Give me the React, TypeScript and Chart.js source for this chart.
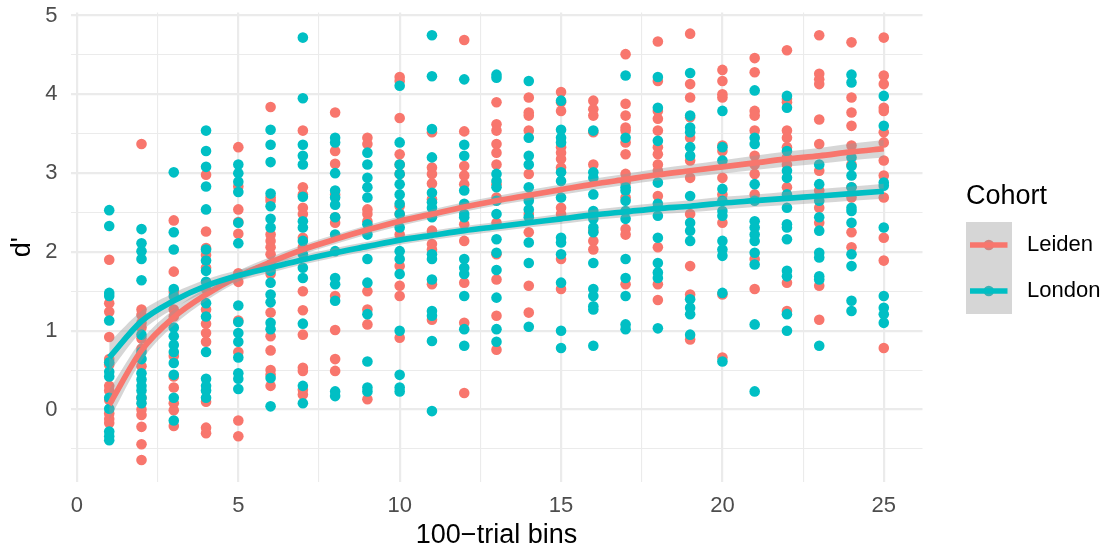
import React, { useEffect, useRef } from 'react';
import { Chart, registerables } from 'chart.js';

Chart.register(...registerables);

const FONT = "'Liberation Sans', Arial, Helvetica, sans-serif";

const COHORTS = ['Leiden', 'London'];
const COLORS = ['#F8766D', '#00BFC4'];
const KEY_POINT_COLORS = ['#D2847F', '#3DB0B3'];
const RIBBON_COLOR = 'rgba(153,153,153,0.4)';

const BINS = [1, 2, 3, 4, 5, 6, 7, 8, 9, 10, 11, 12, 13, 14, 15, 16, 17, 18, 19, 20, 21, 22, 23, 24, 25];
const X_TICKS = [0, 2.5, 5, 7.5, 10, 12.5, 15, 17.5, 20, 22.5, 25];
const Y_TICKS = [-0.5, 0, 0.5, 1, 1.5, 2, 2.5, 3, 3.5, 4, 4.5, 5];

// d' values per 100-trial bin (index 0 = bin 1)
const LEIDEN_POINTS: number[][] = [
  [1.9, 1.35, 1.24, 0.92, 0.64, 0.57, 0.3, 0.24, 0.12, -0.05, -0.12, -0.17],
  [3.37, 1.27, 1.2, 1.1, 1.04, 0.9, 0.77, 0.55, 0.15, 0.0, -0.07, -0.22, -0.44, -0.64],
  [2.4, 1.75, 1.49, 1.27, 1.18, 0.68, 0.42, 0.28, 0.08, -0.01, -0.21],
  [2.98, 2.26, 2.05, 1.96, 1.8, 1.53, 1.27, 1.09, 0.97, 0.86, 0.1, -0.23, -0.3],
  [3.33, 2.83, 2.54, 2.38, 2.23, 1.73, 1.62, 1.13, 0.73, -0.14, -0.34],
  [3.84, 2.69, 2.65, 2.22, 2.14, 2.06, 1.97, 1.72, 1.23, 0.93, 0.75, 0.5, 0.44, 0.3],
  [3.54, 2.82, 2.73, 2.56, 2.48, 2.18, 2.06, 1.5, 1.26, 0.95, 0.53, 0.49, 0.25, 0.19],
  [3.77, 3.28, 3.12, 2.73, 2.44, 2.37, 1.44, 1.01, 0.64, 0.49],
  [3.45, 3.37, 2.54, 2.48, 2.39, 1.5, 1.27, 1.08, 0.13],
  [4.22, 4.17, 3.7, 3.24, 3.11, 2.99, 2.58, 2.48, 2.22, 1.82, 1.57, 1.44, 0.91],
  [3.52, 3.07, 2.99, 2.87, 2.67, 2.27, 2.1, 2.03, 1.59, 1.14],
  [4.69, 3.53, 3.09, 2.97, 2.86, 2.35, 2.14, 1.61, 1.1, 0.21],
  [3.9, 3.62, 3.54, 3.37, 3.26, 3.11, 2.86, 2.69, 2.37, 1.97, 1.65, 1.19, 0.76],
  [3.96, 3.77, 3.73, 3.54, 2.99, 2.69, 2.48, 2.25, 1.57, 1.23],
  [4.03, 3.9, 3.79, 3.33, 3.26, 3.18, 3.07, 2.56, 2.48, 1.91, 1.53],
  [3.92, 3.81, 3.73, 3.52, 3.11, 2.27, 2.14, 2.03],
  [4.51, 3.88, 3.73, 3.58, 3.54, 3.39, 3.24, 2.99, 2.88, 2.69, 2.29, 2.22, 1.59],
  [4.67, 4.17, 3.79, 3.69, 3.54, 3.33, 3.24, 3.11, 3.03, 2.71, 2.06, 1.59, 1.39],
  [4.77, 4.13, 3.96, 3.71, 3.45, 3.16, 2.94, 2.48, 1.82, 1.46, 0.89],
  [4.31, 4.17, 4.0, 3.96, 3.35, 3.28, 2.94, 2.73, 2.37, 1.46, 0.66],
  [4.46, 4.28, 3.79, 3.73, 3.54, 3.22, 3.11, 2.99, 2.73, 1.91, 1.53],
  [4.56, 3.94, 3.9, 3.54, 3.45, 3.33, 3.2, 3.11, 2.82, 1.61, 1.25],
  [4.75, 4.26, 4.19, 4.13, 3.68, 3.37, 3.03, 2.78, 2.56, 2.37, 1.57, 1.14],
  [4.66, 3.96, 3.77, 3.6, 3.35, 3.11, 2.82, 2.69, 2.25, 2.06],
  [4.72, 4.24, 4.13, 3.83, 3.79, 3.52, 3.39, 3.16, 2.97, 2.69, 2.18, 1.89, 0.78],
];

const LONDON_POINTS: number[][] = [
  [2.53, 2.33, 1.48, 1.44, 1.13, 0.6, 0.48, 0.42, 0.15, 0.01, -0.28, -0.34, -0.39],
  [2.29, 2.11, 2.01, 1.91, 1.64, 0.95, 0.73, 0.64, 0.46, 0.38, 0.3, 0.24, 0.15, 0.08],
  [3.01, 2.25, 2.03, 1.53, 1.44, 1.04, 0.93, 0.82, 0.73, 0.59, 0.44, 0.15, -0.14],
  [3.54, 3.28, 3.08, 2.83, 2.54, 2.03, 1.89, 1.76, 1.62, 1.35, 1.18, 0.73, 0.39, 0.3, 0.24, 0.15],
  [3.11, 3.0, 2.89, 2.76, 2.37, 2.11, 1.32, 1.11, 0.97, 0.86, 0.66, 0.46, 0.39, 0.26],
  [3.55, 3.36, 3.14, 2.74, 2.58, 2.42, 2.31, 1.84, 1.76, 1.61, 1.46, 1.36, 1.1, 1.02, 0.4, 0.04],
  [4.72, 3.95, 3.36, 3.22, 3.11, 2.7, 2.39, 2.31, 2.14, 1.97, 1.8, 1.67, 1.09, 0.3, 0.08],
  [3.45, 3.39, 3.0, 2.78, 2.69, 2.6, 2.44, 2.22, 2.01, 1.67, 1.59, 1.38, 0.23, 0.17],
  [3.26, 3.11, 2.94, 2.82, 2.69, 2.35, 2.22, 1.91, 1.61, 1.21, 0.61, 0.28, 0.23],
  [4.11, 3.39, 3.11, 2.99, 2.86, 2.73, 2.61, 2.48, 2.31, 2.01, 1.91, 1.72, 1.0, 0.44, 0.28, 0.23],
  [4.75, 4.23, 3.56, 3.2, 2.75, 2.63, 2.56, 2.44, 1.97, 1.91, 1.65, 1.25, 1.19, 0.87, -0.02],
  [4.19, 3.36, 3.22, 2.78, 2.61, 2.48, 2.44, 1.91, 1.8, 1.72, 1.44, 1.02, 0.81],
  [4.25, 4.21, 2.99, 2.9, 2.82, 2.65, 2.48, 2.16, 1.99, 1.77, 1.42, 1.02, 0.86],
  [4.17, 3.45, 3.22, 3.11, 2.82, 2.65, 2.54, 2.44, 2.12, 1.86, 1.05],
  [3.92, 3.55, 3.45, 3.39, 3.01, 2.9, 2.69, 2.18, 2.12, 1.97, 1.61, 1.0, 0.78],
  [3.54, 3.01, 2.94, 2.73, 2.52, 2.42, 2.31, 2.25, 1.86, 1.53, 1.44, 1.31, 1.27, 0.81],
  [4.24, 3.45, 2.82, 2.78, 2.65, 2.52, 2.42, 1.91, 1.67, 1.44, 1.08, 1.02],
  [4.22, 3.83, 3.41, 2.88, 2.61, 2.46, 2.18, 1.86, 1.74, 1.67, 1.03],
  [4.27, 3.73, 3.58, 3.52, 3.33, 3.22, 2.71, 2.37, 2.27, 2.14, 1.4, 1.29, 1.21, 0.95],
  [3.79, 3.33, 3.16, 2.8, 2.65, 2.52, 2.46, 2.14, 2.03, 1.95, 1.48, 0.61],
  [4.05, 3.45, 3.37, 2.86, 2.65, 2.39, 2.31, 2.22, 2.14, 1.99, 1.84, 1.08, 0.23],
  [3.98, 3.83, 3.28, 3.03, 2.94, 2.73, 2.56, 2.35, 2.31, 2.16, 1.76, 1.69, 1.21, 1.0],
  [3.11, 2.86, 2.65, 2.44, 2.27, 1.99, 1.93, 1.69, 1.65, 0.81],
  [4.25, 4.15, 3.2, 3.09, 2.97, 2.82, 2.56, 2.52, 2.37, 1.97, 1.82, 1.38, 1.25],
  [3.98, 3.6, 2.88, 2.84, 2.31, 1.44, 1.29, 1.21, 1.1],
];

// fitted trend read at each bin
const LEIDEN_FIT = [0.06, 0.75, 1.17, 1.46, 1.69, 1.87, 2.03, 2.16, 2.28, 2.39, 2.48, 2.57, 2.65, 2.72, 2.79, 2.86, 2.92, 2.98, 3.03, 3.08, 3.13, 3.18, 3.22, 3.27, 3.31];
const LONDON_FIT = [0.66, 1.12, 1.38, 1.57, 1.7, 1.8, 1.9, 1.99, 2.07, 2.15, 2.21, 2.27, 2.32, 2.37, 2.42, 2.47, 2.51, 2.55, 2.58, 2.62, 2.65, 2.68, 2.71, 2.74, 2.77];
// half-width of the confidence band at each bin
const LEIDEN_CI = [0.19, 0.13, 0.1, 0.08, 0.07, 0.065, 0.06, 0.06, 0.06, 0.06, 0.06, 0.06, 0.06, 0.065, 0.065, 0.07, 0.07, 0.075, 0.08, 0.085, 0.09, 0.095, 0.1, 0.105, 0.11];
const LONDON_CI = [0.19, 0.13, 0.1, 0.08, 0.07, 0.065, 0.06, 0.06, 0.06, 0.06, 0.06, 0.06, 0.06, 0.06, 0.065, 0.065, 0.07, 0.07, 0.075, 0.08, 0.08, 0.085, 0.09, 0.09, 0.095];

const ggLegend = {
  id: 'ggLegend',
  afterDraw(chart: any) {
    const ctx = chart.ctx as CanvasRenderingContext2D;
    ctx.save();
    ctx.textAlign = 'left';
    ctx.textBaseline = 'alphabetic';
    ctx.fillStyle = '#000000';
    ctx.font = `27px ${FONT}`;
    ctx.fillText('Cohort', 966, 204);
    ctx.fillStyle = 'rgb(214,214,214)';
    ctx.fillRect(966, 222, 46, 92);
    COHORTS.forEach((name, i) => {
      const cy = 245 + i * 46;
      ctx.beginPath();
      ctx.arc(988.8, cy, 5.3, 0, Math.PI * 2);
      ctx.fillStyle = KEY_POINT_COLORS[i];
      ctx.fill();
      ctx.beginPath();
      ctx.moveTo(970, cy);
      ctx.lineTo(1007.5, cy);
      ctx.strokeStyle = COLORS[i];
      ctx.lineWidth = 5.7;
      ctx.stroke();
      ctx.font = `22px ${FONT}`;
      ctx.fillStyle = '#000000';
      ctx.textBaseline = 'middle';
      ctx.fillText(name, 1027, cy);
    });
    ctx.restore();
  },
};

function pointsOf(bins: number[][]) {
  const out: { x: number; y: number }[] = [];
  bins.forEach((vals, i) => vals.forEach((v) => out.push({ x: BINS[i], y: v })));
  return out;
}

function curve(vals: number[], offs?: number[], sign = 0) {
  return BINS.map((x, i) => ({ x, y: vals[i] + (offs ? sign * offs[i] : 0) }));
}

export default function App() {
  const ref = useRef<HTMLCanvasElement | null>(null);

  useEffect(() => {
    if (!ref.current) return;
    const lineBase = { type: 'line' as const, pointRadius: 0, fill: false, cubicInterpolationMode: 'monotone' as const };
    const datasets: any[] = [
      // 0,1: Leiden ribbon
      { ...lineBase, label: 'Leiden lo', data: curve(LEIDEN_FIT, LEIDEN_CI, -1), borderWidth: 0, borderColor: 'rgba(0,0,0,0)', order: 4 },
      { ...lineBase, label: 'Leiden hi', data: curve(LEIDEN_FIT, LEIDEN_CI, 1), borderWidth: 0, borderColor: 'rgba(0,0,0,0)', fill: '-1', backgroundColor: RIBBON_COLOR, order: 4 },
      // 2: Leiden line
      { ...lineBase, label: 'Leiden fit', data: curve(LEIDEN_FIT), borderWidth: 5.7, borderColor: COLORS[0], order: 3, borderCapStyle: 'butt' },
      // 3,4: London ribbon
      { ...lineBase, label: 'London lo', data: curve(LONDON_FIT, LONDON_CI, -1), borderWidth: 0, borderColor: 'rgba(0,0,0,0)', order: 2 },
      { ...lineBase, label: 'London hi', data: curve(LONDON_FIT, LONDON_CI, 1), borderWidth: 0, borderColor: 'rgba(0,0,0,0)', fill: '-1', backgroundColor: RIBBON_COLOR, order: 2 },
      // 5: London line
      { ...lineBase, label: 'London fit', data: curve(LONDON_FIT), borderWidth: 5.7, borderColor: COLORS[1], order: 1, borderCapStyle: 'butt' },
      // points
      { type: 'scatter', label: 'London', data: pointsOf(LONDON_POINTS), backgroundColor: COLORS[1], borderWidth: 0, pointRadius: 5.3, order: 5 },
      { type: 'scatter', label: 'Leiden', data: pointsOf(LEIDEN_POINTS), backgroundColor: COLORS[0], borderWidth: 0, pointRadius: 5.3, order: 6 },
    ];

    const gridX = {
      color: '#EBEBEB',
      lineWidth: (c: any) => (c.tick && c.tick.value % 5 === 0 ? 2.2 : 1.1),
      drawTicks: false,
    };
    const gridY = {
      color: '#EBEBEB',
      lineWidth: (c: any) => (c.tick && Math.abs(c.tick.value % 1) < 1e-9 ? 2.2 : 1.1),
      drawTicks: false,
    };

    const chart = new Chart(ref.current, {
      type: 'scatter',
      data: { datasets },
      options: {
        responsive: false,
        animation: false,
        devicePixelRatio: 1,
        events: [],
        layout: { padding: { top: 12.4, right: 190.5, left: 0, bottom: 0 } },
        plugins: { legend: { display: false }, tooltip: { enabled: false } },
        scales: {
          x: {
            type: 'linear',
            min: -0.2,
            max: 26.2,
            afterFit: (s: any) => {
              s.height = 69;
              s.paddingLeft = 0;
              s.paddingRight = 0;
            },
            afterBuildTicks: (s: any) => { s.ticks = X_TICKS.map((v) => ({ value: v })); },
            grid: gridX,
            border: { display: false },
            ticks: {
              autoSkip: false,
              maxRotation: 0,
              padding: 11,
              color: '#4D4D4D',
              font: { family: FONT, size: 22 },
              callback: (v: any) => (Number(v) % 5 === 0 ? String(v) : ''),
            },
            title: {
              display: true,
              text: '100\u2212trial bins',
              color: '#000000',
              font: { family: FONT, size: 27, lineHeight: 1 },
              padding: { top: 0, bottom: 2 },
            },
          },
          y: {
            type: 'linear',
            min: -0.92,
            max: 5.04,
            afterFit: (s: any) => {
              s.width = 70.5;
              s.paddingTop = 0;
              s.paddingBottom = 0;
            },
            afterBuildTicks: (s: any) => { s.ticks = Y_TICKS.map((v) => ({ value: v })); },
            grid: gridY,
            border: { display: false },
            ticks: {
              autoSkip: false,
              padding: 13,
              color: '#4D4D4D',
              font: { family: FONT, size: 22 },
              callback: (v: any) => (Math.abs(Number(v) % 1) < 1e-9 ? String(v) : ''),
            },
            title: {
              display: true,
              text: "d'",
              color: '#000000',
              font: { family: FONT, size: 27, lineHeight: 1 },
              padding: { top: 9, bottom: 0 },
            },
          },
        },
      } as any,
      plugins: [ggLegend],
    });
    return () => chart.destroy();
  }, []);

  return (
    <div style={{ position: 'fixed', left: 0, top: 0, width: 1113, height: 551, background: '#ffffff' }}>
      <canvas ref={ref} width={1113} height={551} style={{ width: 1113, height: 551, display: 'block' }} />
    </div>
  );
}
